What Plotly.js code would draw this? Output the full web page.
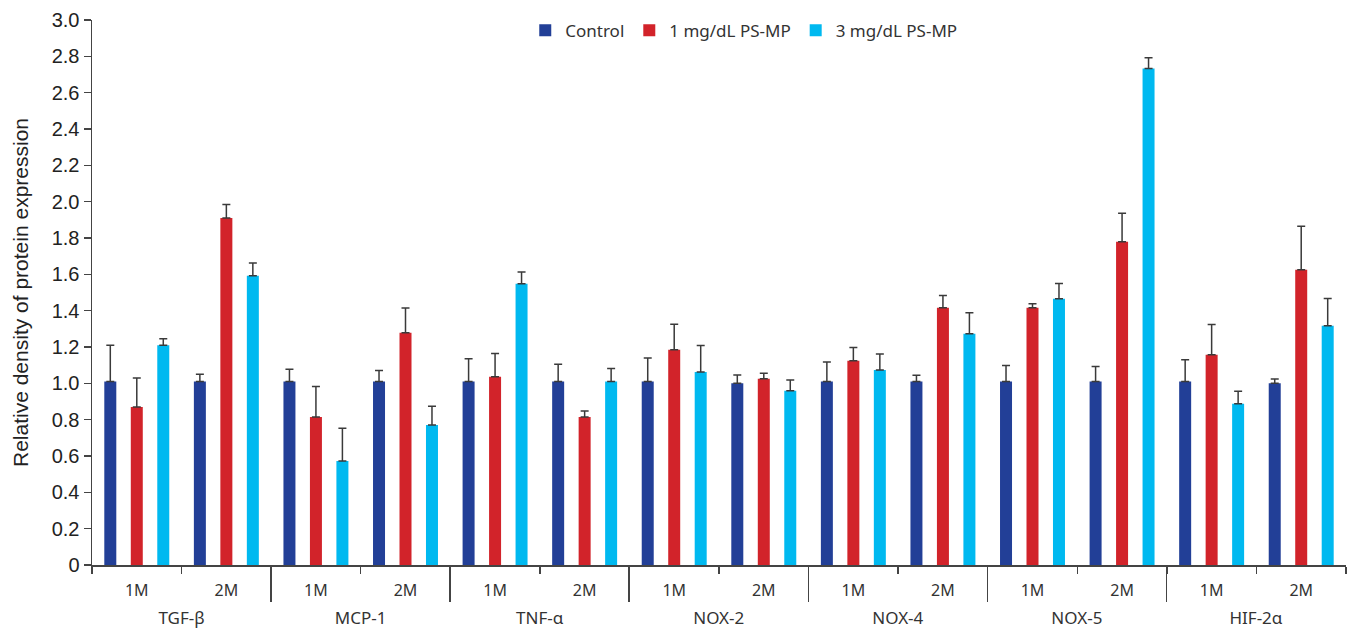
<!DOCTYPE html>
<html>
<head>
<meta charset="utf-8">
<script src="https://cdn.plot.ly/plotly-3.0.1.min.js"></script>
<style>html,body{margin:0;padding:0;background:#fff}#chart{width:1349px;height:630px}</style>
</head>
<body>
<div id="chart"></div>
<script>
const proteins = ["TGF-β","TGF-β","MCP-1","MCP-1","TNF-α","TNF-α","NOX-2","NOX-2","NOX-4","NOX-4","NOX-5","NOX-5","HIF-2α","HIF-2α"];
const timepoints = ["1M","2M","1M","2M","1M","2M","1M","2M","1M","2M","1M","2M","1M","2M"];
const seriesNames = ["Control","1 mg/dL PS-MP","3 mg/dL PS-MP"];
const controlVals = [1.01,1.01,1.01,1.01,1.01,1.01,1.01,1.00,1.01,1.01,1.01,1.01,1.01,1.00];
const controlErr  = [0.20,0.04,0.067,0.06,0.125,0.095,0.13,0.046,0.107,0.035,0.088,0.083,0.12,0.024];
const lowVals = [0.87,1.91,0.815,1.278,1.036,0.815,1.185,1.025,1.124,1.416,1.416,1.78,1.157,1.625];
const lowErr  = [0.16,0.075,0.167,0.136,0.128,0.033,0.14,0.03,0.073,0.068,0.022,0.156,0.167,0.24];
const highVals = [1.21,1.592,0.573,0.771,1.548,1.01,1.063,0.959,1.074,1.273,1.466,2.733,0.887,1.317];
const highErr  = [0.035,0.07,0.18,0.103,0.065,0.072,0.145,0.06,0.087,0.115,0.083,0.059,0.07,0.15];
const yTickVals = [0,0.2,0.4,0.6,0.8,1.0,1.2,1.4,1.6,1.8,2.0,2.2,2.4,2.6,2.8,3.0];
const yTickText = ["0","0.2","0.4","0.6","0.8","1.0","1.2","1.4","1.6","1.8","2.0","2.2","2.4","2.6","2.8","3.0"];
const colors = ["#223F97","#D2232A","#00B9F0"];

// category keys for inner level, and unique outer-level groups
const keys = proteins.map((p, i) => p + " " + timepoints[i]);
const groups = proteins.filter((p, i) => proteins.indexOf(p) === i);

const allVals = [controlVals, lowVals, highVals];
const allErr = [controlErr, lowErr, highErr];
const traces = allVals.map((v, i) => ({
  type: "bar",
  name: seriesNames[i],
  x: keys,
  y: v,
  xaxis: "x", yaxis: "y",
  marker: {color: colors[i]},
  error_y: {type: "data", array: allErr[i], symmetric: false, arrayminus: allErr[i].map(() => 0), color: "#3a3a3a", thickness: 1.5, width: 4},
  hoverinfo: "skip"
}));
// helper trace that registers the outer-level (protein) axis
traces.push({
  type: "scatter", mode: "markers", x: groups, y: groups.map(() => null),
  xaxis: "x2", yaxis: "y", showlegend: false, hoverinfo: "skip", marker: {opacity: 0}
});

const H = 630, T = 20, B = 0;
const plotH = H - T - B;
const yZeroPx = 565;
const dividerBottomPx = 602;

const layout = {
  width: 1349, height: H,
  margin: {l: 92, r: 3, t: T, b: B},
  paper_bgcolor: "#fff", plot_bgcolor: "rgba(0,0,0,0)",
  barmode: "group",
  bargap: 0.113,
  bargroupgap: 0.547,
  showlegend: true,
  legend: {
    orientation: "h", x: 0.3455, xanchor: "left", y: 1.012, yanchor: "top",
    font: {family: "Noto Sans", size: 17, color: "#333"},
    itemwidth: 30, traceorder: "normal", bgcolor: "rgba(0,0,0,0)"
  },
  xaxis: {
    type: "category", categoryarray: keys, categoryorder: "array",
    range: [-0.5, keys.length - 0.5],
    tickvals: keys, ticktext: timepoints,
    tickson: "boundaries",
    showline: true, linecolor: "#444", linewidth: 1.5,
    ticks: "outside", ticklen: 7, tickcolor: "#444", tickwidth: 1.5,
    showgrid: false, zeroline: false,
    tickfont: {family: "Noto Sans", size: 16, color: "#333"},
    ticklabelstandoff: 10,
    anchor: "y", automargin: false, fixedrange: true
  },
  xaxis2: {
    type: "category", categoryarray: groups, categoryorder: "array",
    range: [-0.5, groups.length - 0.5 + 0.003],
    overlaying: "x", anchor: "free", side: "bottom",
    position: (H - dividerBottomPx) / plotH,
    tickson: "boundaries",
    showline: false, showgrid: false, zeroline: false,
    ticks: "inside", ticklen: dividerBottomPx - yZeroPx, tickcolor: "#444", tickwidth: 1.5,
    tickfont: {family: "Noto Sans", size: 17, color: "#333"},
    ticklabelstandoff: 4,
    automargin: false, fixedrange: true
  },
  yaxis: {
    domain: [(H - yZeroPx) / plotH, 1],
    range: [0, 3.0],
    tickvals: yTickVals, ticktext: yTickText,
    ticks: "outside", ticklen: 7, tickcolor: "#444", tickwidth: 1.5,
    showline: true, linecolor: "#444", linewidth: 1.5,
    showgrid: false, zeroline: false,
    tickfont: {family: "Liberation Sans", size: 20, color: "#222"},
    title: {text: "Relative density of protein expression", font: {family: "Liberation Sans", size: 21, color: "#222"}, standoff: 17},
    automargin: false
  }
};

Plotly.newPlot("chart", traces, layout, {displayModeBar: false, staticPlot: true});
</script>
</body>
</html>
